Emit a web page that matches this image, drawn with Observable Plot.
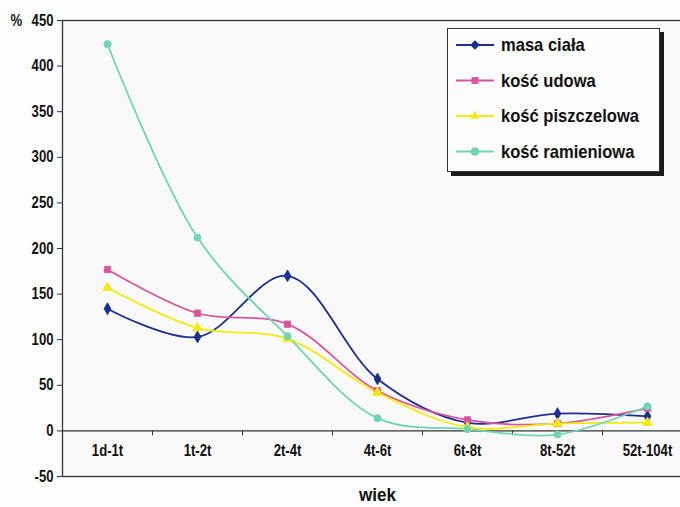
<!DOCTYPE html>
<html>
<head>
<meta charset="utf-8">
<script src="https://cdn.jsdelivr.net/npm/d3@7"></script>
<script src="https://cdn.jsdelivr.net/npm/@observablehq/plot@0.6"></script>
<style>
  html, body { margin: 0; padding: 0; background: #fdfdfd; overflow: hidden; }
  #wrap { position: relative; width: 680px; height: 507px; overflow: hidden; }
  #wrap > svg { max-width: none !important; width: 692px; height: 507px; }
  #legend { position: absolute; left: 447px; top: 28px; width: 211px; height: 142px; background: #fcfcfc;
    border: 1.2px solid #333; box-shadow: 4px 4px 0 #1a1a1a; }
  #legend svg { display: block; }
</style>
</head>
<body>
<div id="wrap"></div>
<script>
const categories = ["1d-1t", "1t-2t", "2t-4t", "4t-6t", "6t-8t", "8t-52t", "52t-104t"];
const seriesNames = ["masa ciała", "kość udowa", "kość piszczelowa", "kość ramieniowa"];
const masaCiala = [134, 103, 170, 57, 9, 19, 16];
const koscUdowa = [177, 129, 117, 44, 12, 8, 25];
const koscPiszczelowa = [157, 113, 101, 42, 4, 8, 9];
const koscRamieniowa = [424, 212, 104, 14, 2, -4, 27];
const yTicks = [-50, 0, 50, 100, 150, 200, 250, 300, 350, 400, 450];
const colors = ["#1d2f8e", "#d6559c", "#f3ea12", "#72d4b6"];
const symbols = ["diamond", "square", "triangle", "circle"];

const seriesValues = [masaCiala, koscUdowa, koscPiszczelowa, koscRamieniowa];
const rows = [];
seriesNames.forEach((s, si) => seriesValues[si].forEach((v, i) => rows.push({series: s, i, value: v})));
const boundaries = categories.slice(1).map((_, i) => i + 0.5);
const catRows = categories.map((c, i) => ({c, i}));

const font = '"Liberation Sans", Arial, sans-serif';

const chart = Plot.plot({
  width: 692,
  height: 507,
  marginLeft: 62,
  marginRight: 0,
  marginTop: 20,
  marginBottom: 31,
  style: {background: "#fdfdfd", fontFamily: font, fontWeight: "bold", fontSize: "16px", color: "#111", maxWidth: "none"},
  x: {type: "linear", domain: [-0.5, categories.length - 0.5], axis: null},
  y: {domain: [-50, 450], ticks: yTicks, label: null},
  color: {domain: seriesNames, range: colors},
  symbol: {domain: seriesNames, range: symbols},
  marks: [
    Plot.frame({fill: "#f9f9f9", stroke: "none"}),
    Plot.axisY({ticks: yTicks, tickSize: 5, tickPadding: 4, fontSize: 16, fontWeight: "bold", label: null, stroke: "#333", fill: "#111", tickFormat: d => String(d)}),
    Plot.ruleY([0], {stroke: "#333", strokeWidth: 1.4}),
    Plot.ruleX(boundaries, {x: d => d, y1: 0, y2: 0, insetBottom: -5, stroke: "#333"}),
    Plot.text(catRows, {x: "i", y: 0, text: "c", dy: 20, fontSize: 16, fontWeight: "bold", fill: "#111"}),
    Plot.line(rows, {x: "i", y: "value", z: "series", stroke: "series", strokeWidth: 1.8, curve: "catmull-rom"}),
    Plot.dot(rows, {x: "i", y: "value", symbol: "series", fill: "series", r: 3.6, stroke: "series", strokeWidth: 0.8}),
    Plot.frame({stroke: "#333", strokeWidth: 1.3}),
    Plot.text(["%"], {frameAnchor: "top-left", text: d => d, dx: -52, textAnchor: "start", lineAnchor: "middle", fontSize: 16, fontWeight: "bold", fill: "#111"}),
    Plot.text(["wiek"], {frameAnchor: "bottom", text: d => d, dy: 24, fontSize: 18, fontWeight: "bold", fill: "#111"})
  ]
});
chart.style.maxWidth = "none";
// condensed look: horizontally compress text glyphs about their anchor point
chart.querySelectorAll("text").forEach(t => {
  const tr = t.getAttribute("transform") || "";
  const isWiek = t.textContent === "wiek";
  t.setAttribute("transform", `${tr} scale(${isWiek ? 0.95 : 0.82},1)`);
});
const wrap = document.getElementById("wrap");
wrap.appendChild(chart);

// Legend
const legend = document.createElement("div");
legend.id = "legend";
wrap.appendChild(legend);
const lsvg = d3.select(legend).append("svg").attr("width", 211).attr("height", 142);
const sym = {diamond: d3.symbolDiamond2, square: d3.symbolSquare2, triangle: d3.symbolTriangle2, circle: d3.symbolCircle};
seriesNames.forEach((s, i) => {
  const cy = 16 + i * 35.5;
  const g = lsvg.append("g");
  g.append("line").attr("x1", 8).attr("x2", 46).attr("y1", cy).attr("y2", cy).attr("stroke", colors[i]).attr("stroke-width", 1.8);
  g.append("path").attr("transform", `translate(27,${cy})`).attr("d", d3.symbol(sym[symbols[i]], 60)()).attr("fill", colors[i]);
  g.append("text").attr("transform", `translate(53,${cy}) scale(0.92,1)`).attr("dy", "0.35em")
    .style("font-size", "18px").style("font-family", font).style("font-weight", "bold").attr("fill", "#111").text(s);
});
</script>
</body>
</html>
